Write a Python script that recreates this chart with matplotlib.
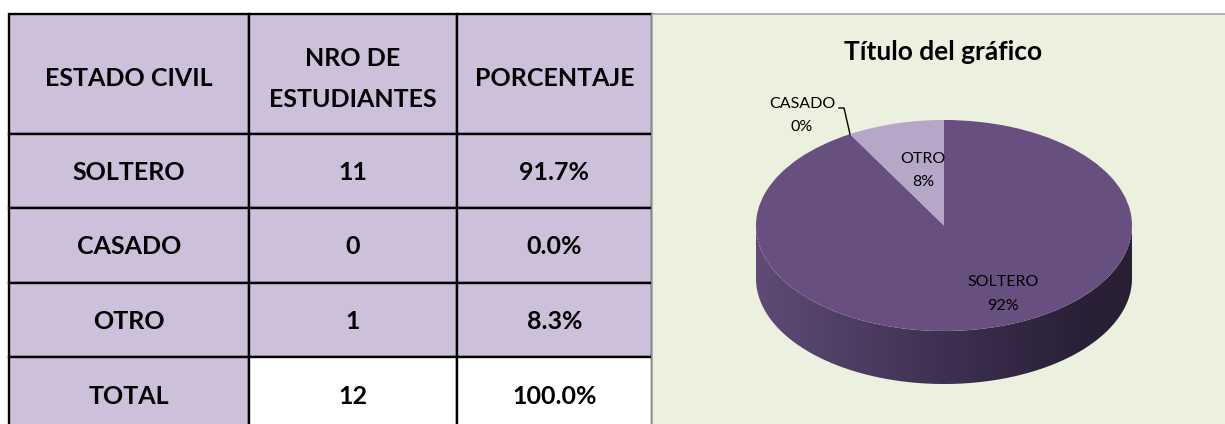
import numpy as np
import matplotlib
matplotlib.use("Agg")
import matplotlib.pyplot as plt
from matplotlib.patches import Rectangle, Polygon

# ---------------- data ----------------
headers = ["ESTADO CIVIL", "NRO DE\nESTUDIANTES", "PORCENTAJE"]
estados = ["SOLTERO", "CASADO", "OTRO"]
nro_estudiantes = [11, 0, 1]
total_label = "TOTAL"
chart_title = "Título del gráfico"

total = sum(nro_estudiantes)
porcentajes = [v / total * 100 for v in nro_estudiantes]

# ---------------- style ----------------
W, H = 1225, 424
PURPLE_CELL = "#CCC0DA"
CHART_BG = "#EBF1DE"
SOLTERO_C = "#67507F"
OTRO_C = "#B4A7C8"
FONT = "Lato"

fig = plt.figure(figsize=(W / 100, H / 100), dpi=100)
fig.patch.set_facecolor("white")
ax = fig.add_axes([0, 0, 1, 1])
ax.set_xlim(0, W)
ax.set_ylim(H, 0)
ax.axis("off")

# ---------------- table ----------------
col_edges = [9, 249, 457, 652]
row_edges = [14, 134, 208, 283, 357, 445]
fs_tab = 18.0
cap_px = 0.72 * fs_tab * 100 / 72

rows = []
for e, n, p in zip(estados, nro_estudiantes, porcentajes):
    rows.append([e, f"{n}", f"{p:.1f}%"])
rows.append([total_label, f"{total}", f"{sum(porcentajes):.1f}%"])

n_rows = len(rows) + 1
for r in range(n_rows):
    for c in range(3):
        x0, x1 = col_edges[c], col_edges[c + 1]
        y0, y1 = row_edges[r], row_edges[r + 1]
        face = PURPLE_CELL
        if r == n_rows - 1 and c > 0:
            face = "white"
        ax.add_patch(Rectangle((x0, y0), x1 - x0, y1 - y0, facecolor=face,
                               edgecolor="black", linewidth=1.7, zorder=1))

def cell_text(txt, xc, yc):
    ax.text(xc, yc + cap_px / 2, txt, ha="center", va="baseline",
            fontsize=fs_tab, fontweight="bold", family=FONT, color="black", zorder=3)

# header
for c, h in enumerate(headers):
    xc = (col_edges[c] + col_edges[c + 1]) / 2
    lines = h.split("\n")
    if len(lines) == 1:
        cell_text(lines[0], xc, 76.5)
    else:
        cell_text(lines[0], xc, 57)
        cell_text(lines[1], xc, 98)

for r, row in enumerate(rows):
    yc = (row_edges[r + 1] + row_edges[r + 2]) / 2
    if r == len(rows) - 1:
        yc = 395.5
    for c, txt in enumerate(row):
        xc = (col_edges[c] + col_edges[c + 1]) / 2
        cell_text(txt, xc, yc)

# ---------------- chart area ----------------
ax.add_patch(Rectangle((652, 14), W - 652 + 5, H - 14 + 5, facecolor=CHART_BG,
                       edgecolor="#A6A6A6", linewidth=1.2, zorder=4))
ax.text(943, 51 + 9.5, chart_title, ha="center", va="baseline", fontsize=19,
        fontweight="bold", family=FONT, color="black", zorder=5)

# pie axes geometry (pixels)
cx, cy, rx, ry = 944, 225.5, 188, 105.5
depth_px = 53
pax = fig.add_axes([652 / W, 0, (W - 652) / W, (H - 14) / H])
pax.set_zorder(5)
wedges, _ = pax.pie(nro_estudiantes, startangle=90, counterclock=False,
                    colors=[SOLTERO_C, "#8064A2", OTRO_C],
                    wedgeprops=dict(linewidth=0, zorder=3))
pax.set_aspect("auto")
pax.set_xlim((652 - cx) / rx, (W - cx) / rx)
pax.set_ylim((cy - H) / ry, (cy - 14) / ry)
pax.axis("off")

# side of the 3D pie
d = depth_px / ry
t = np.linspace(np.pi, 2 * np.pi, 200)
top = np.column_stack([np.cos(t), np.sin(t)])
bot = np.column_stack([np.cos(t[::-1]), np.sin(t[::-1]) - d])
side = Polygon(np.vstack([top, bot]), closed=True, facecolor="none",
               edgecolor="none", zorder=1)
pax.add_patch(side)
stops_x = [0.0, 0.1, 0.5, 0.85, 1.0]
stops_c = np.array([[95, 75, 118], [88, 70, 110], [62, 48, 82],
                     [42, 33, 56], [40, 31, 52]]) / 255.0
xs = np.linspace(0, 1, 400)
grad = np.stack([np.interp(xs, stops_x, stops_c[:, k]) for k in range(3)], axis=-1)
grad = grad[np.newaxis, :, :]
im = pax.imshow(grad, extent=[-1, 1, -1 - d, 0.05], aspect="auto", zorder=1,
                interpolation="bilinear")
im.set_clip_path(side)

# labels
lab_fs = 11.5
lab_kw = dict(ha="center", va="center", fontsize=lab_fs, family=FONT, color="black",
              zorder=6, linespacing=1.85)

def px2d(px, py):
    return (px - cx) / rx, (cy - py) / ry

for w, name, pct in zip(wedges, estados, porcentajes):
    mid = np.deg2rad((w.theta1 + w.theta2) / 2)
    label = f"{name}\n{pct:.0f}%"
    if name == "SOLTERO":
        x, y = px2d(1003, 294)
        pax.text(x, y, label, **lab_kw)
    elif name == "OTRO":
        x, y = px2d(923, 170.5)
        pax.text(x, y, label, **lab_kw)
    else:
        ex, ey = np.cos(mid), np.sin(mid)
        epx, epy = cx + ex * rx, cy - ey * ry
        k1 = px2d(epx - 6, 108)
        k2 = px2d(epx - 11, 108)
        pax.plot([ex, k1[0], k2[0]], [ey, k1[1], k2[1]], color="black", lw=1.0, zorder=6)
        x, y = px2d(epx - 48, 115.5)
        pax.text(x, y, label, **lab_kw)

fig.savefig("out.png", dpi=100, facecolor="white")
